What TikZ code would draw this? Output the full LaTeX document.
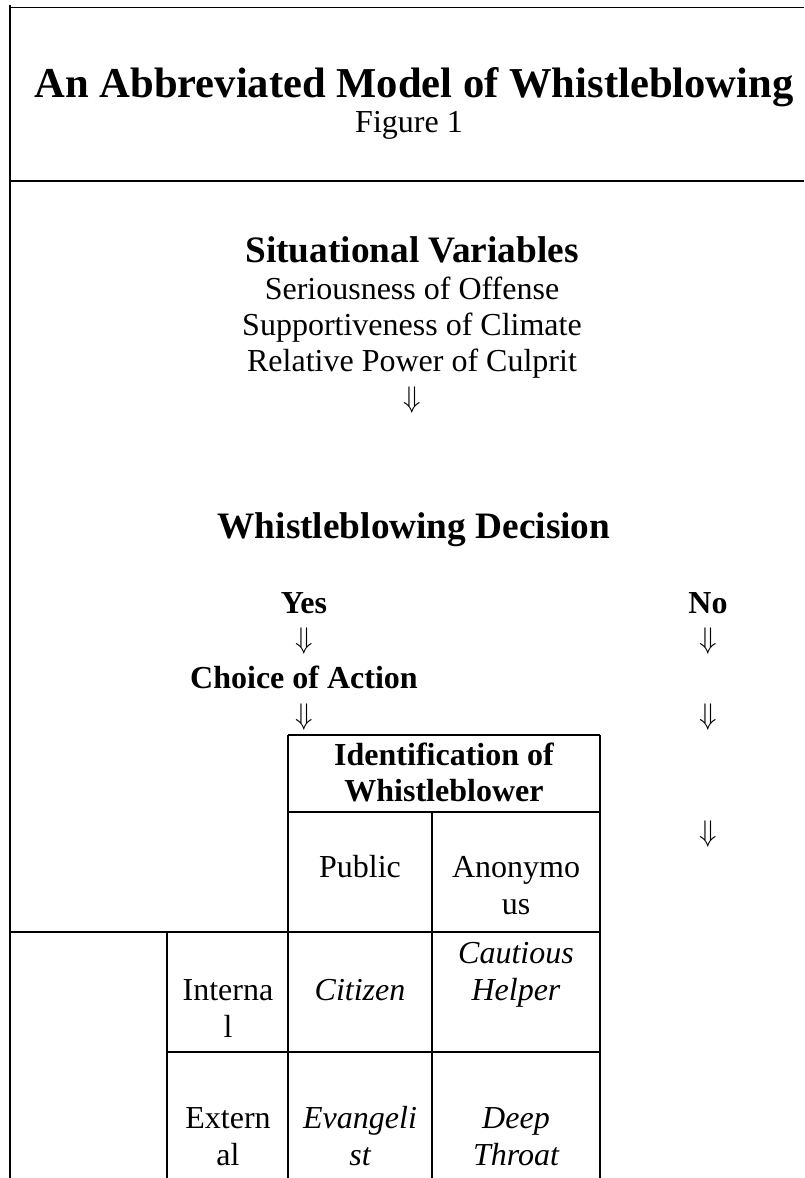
\documentclass[tikz,border=0pt]{standalone}
\usepackage{fontspec}
\setmainfont{Liberation Serif}
\newcommand{\dnglyph}{\scalebox{1.15}[1.2]{$\Downarrow$}}
\begin{document}
\begin{tikzpicture}[x=1pt,y=-1pt,
  ln/.style={line width=1.6pt},
  thin/.style={line width=1pt},
  heavy/.style={line width=2.2pt},
  txt/.style={anchor=base, inner sep=0pt, font=\fontsize{32}{36.8}\selectfont},
  txtb/.style={anchor=base, inner sep=0pt, font=\fontsize{32}{36.8}\selectfont\bfseries},
  txti/.style={anchor=base, inner sep=0pt, font=\fontsize{32}{36.8}\selectfont\itshape},
  head/.style={anchor=base, inner sep=0pt, font=\fontsize{37.3}{43}\selectfont\bfseries},
  ttl/.style={anchor=base, inner sep=0pt, font=\fontsize{42.6}{49}\selectfont\bfseries},
  dnarr/.style={anchor=base, inner sep=0pt, font=\fontsize{27}{31}\selectfont}]
\useasboundingbox (0,0) rectangle (804,1178);
% frame lines
\draw[thin] (10,7) -- (804,7);
\draw[ln] (10,5) -- (10,1178);
\draw[heavy] (10,181) -- (804,181);
% title
\node[ttl] (title) at (414,97) {An Abbreviated Model of Whistleblowing};
\node[txt] (fig) at (409,132) {Figure 1};
% situational variables
\node[head] (sv) at (412,262) {Situational Variables};
\node[txt] (sv1) at (412,299) {Seriousness of Offense};
\node[txt] (sv2) at (412,335) {Supportiveness of Climate};
\node[txt] (sv3) at (412,371) {Relative Power of Culprit};
\node[dnarr] (a0) at (412,407) {\dnglyph};
% decision
\node[head] (wd) at (414,538) {Whistleblowing Decision};
\node[txtb] (yes) at (304,613) {Yes};
\node[txtb] (no) at (708,613) {No};
\node[dnarr] (a1) at (304,648) {\dnglyph};
\node[dnarr] (b1) at (708,648) {\dnglyph};
\node[txtb] (coa) at (304,688) {Choice of Action};
\node[dnarr] (a2) at (304,724) {\dnglyph};
\node[dnarr] (b2) at (708,724) {\dnglyph};
\node[dnarr] (b3) at (708,841) {\dnglyph};
% table
\draw[ln] (288,735) -- (600,735);
\draw[ln] (288,735) -- (288,1178);
\draw[ln] (600,735) -- (600,1178);
\draw[ln] (288,812) -- (600,812);
\draw[ln] (432,812) -- (432,1178);
\draw[ln] (10,932) -- (600,932);
\draw[ln] (167,932) -- (167,1178);
\draw[ln] (167,1052) -- (600,1052);
% table texts
\node[txtb] (id1) at (444,765) {Identification of};
\node[txtb] (id2) at (444,801) {Whistleblower};
\node[txt] (pub) at (360,877) {Public};
\node[txt] (anon1) at (516,877) {Anonymo};
\node[txt] (anon2) at (516,914) {us};
\node[txt] (int1) at (228,1000) {Interna};
\node[txt] (int2) at (228,1037) {l};
\node[txti] (cit) at (360,1000) {Citizen};
\node[txti] (cau1) at (516,963) {Cautious};
\node[txti] (cau2) at (516,1000) {Helper};
\node[txt] (ext1) at (228,1128) {Extern};
\node[txt] (ext2) at (228,1165) {al};
\node[txti] (eva1) at (360,1128) {Evangeli};
\node[txti] (eva2) at (360,1165) {st};
\node[txti] (dt1) at (516,1128) {Deep};
\node[txti] (dt2) at (516,1165) {Throat};
\end{tikzpicture}
\end{document}
